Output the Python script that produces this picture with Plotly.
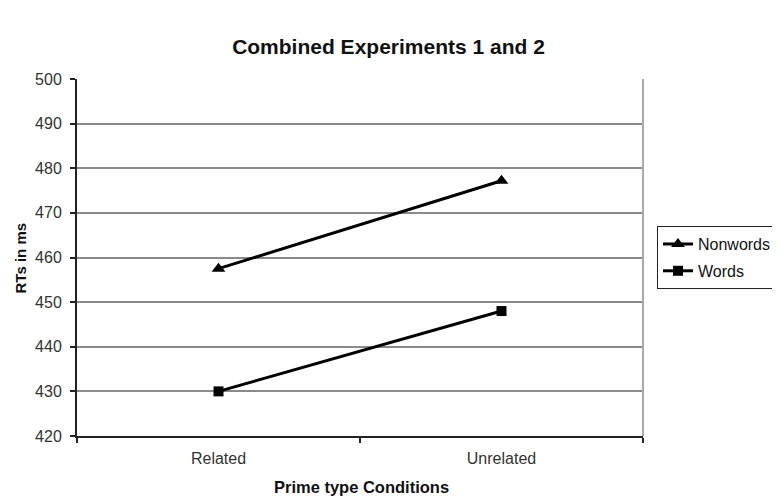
import plotly.graph_objects as go

categories = ["Related", "Unrelated"]
nonwords = [457.5, 477.2]
words = [430, 448]
y_ticks = [420, 430, 440, 450, 460, 470, 480, 490, 500]

W, H = 780, 497  # page has an 8px body margin, so content is shifted by 8px
fig = go.Figure()
fig.add_trace(go.Scatter(x=categories, y=nonwords, name="Nonwords", mode="lines+markers",
                         legendgroup="a",
                         line=dict(color="black", width=3),
                         marker=dict(symbol="triangle-up", size=12, color="black")))
fig.add_trace(go.Scatter(x=categories, y=words, name="Words", mode="lines+markers",
                         legendgroup="b",
                         line=dict(color="black", width=3),
                         marker=dict(symbol="square", size=10, color="black")))

fig.update_layout(
    width=W, height=H,
    margin=dict(l=69, r=145, t=71, b=69, autoexpand=False),
    paper_bgcolor="white", plot_bgcolor="white",
    font=dict(family="Liberation Sans, Arial, sans-serif", color="#333", size=16),
    title=dict(text="<b>Combined Experiments 1 and 2</b>", x=380.5 / W, xanchor="center",
               xref="container", y=1 - 39 / H, yanchor="middle",
               font=dict(size=21, color="#111")),
    legend=dict(x=1.0247, xanchor="left", y=0.588, yanchor="top",
                bordercolor="#222", borderwidth=1, bgcolor="white",
                traceorder="grouped", tracegroupgap=3,
                font=dict(size=16, color="#111")),
    showlegend=True,
)
fig.update_xaxes(type="category", range=[-0.5, 1.5], tickson="boundaries",
                 ticks="outside", ticklen=5, tickcolor="#222", tickwidth=1.5,
                 ticklabelstandoff=7,
                 showline=True, linecolor="#222", linewidth=2, showgrid=False)
fig.update_yaxes(range=[420, 500], tickvals=y_ticks, ticks="outside", ticklen=5,
                 tickcolor="#222", tickwidth=1.5, ticklabelstandoff=5,
                 showline=True, linecolor="#222", linewidth=2,
                 showgrid=True, gridcolor="#8a8a8a", gridwidth=2, zeroline=False)
fig.add_shape(type="line", xref="paper", yref="paper", x0=1, x1=1, y0=0, y1=1,
              line=dict(color="#aaa", width=2))
fig.add_annotation(text="<b>Prime type Conditions</b>", xref="paper", yref="paper",
                   x=0.503, y=-51 / 357, xanchor="center", yanchor="middle",
                   showarrow=False, font=dict(size=16.5, color="#111"))
fig.add_annotation(text="<b>RTs in ms</b>", xref="paper", yref="paper",
                   x=-0.099, y=0.5, xanchor="center", yanchor="middle", textangle=-90,
                   showarrow=False, font=dict(size=15, color="#111"))

fig.write_html("out.html")
